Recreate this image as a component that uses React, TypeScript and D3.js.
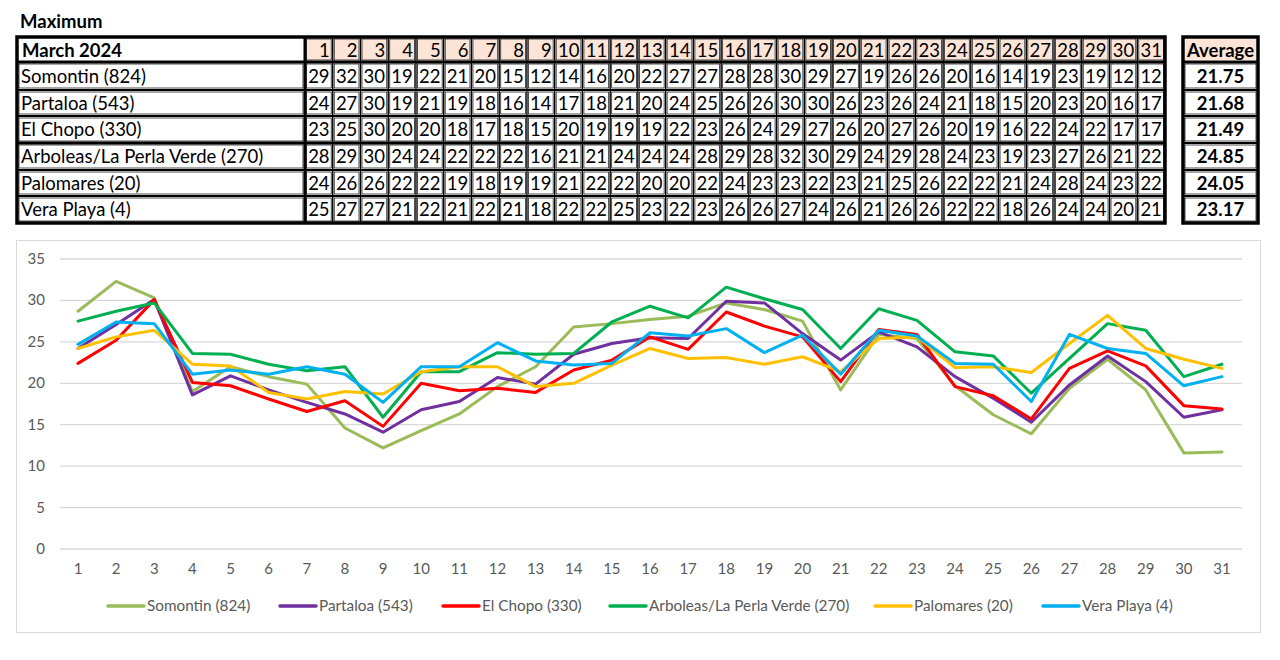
import { useEffect } from "react";
import * as d3 from "d3";

const days = d3.range(1, 32);
const stations = [
  "Somontin (824)",
  "Partaloa (543)",
  "El Chopo (330)",
  "Arboleas/La Perla Verde (270)",
  "Palomares (20)",
  "Vera Playa (4)",
];
const colors = ["#9bbb59", "#7030a0", "#ff0000", "#00b050", "#ffc000", "#00b0f0"];

// rounded values as printed in the table
const tableSomontin = [29, 32, 30, 19, 22, 21, 20, 15, 12, 14, 16, 20, 22, 27, 27, 28, 28, 30, 29, 27, 19, 26, 26, 20, 16, 14, 19, 23, 19, 12, 12];
const tablePartaloa = [24, 27, 30, 19, 21, 19, 18, 16, 14, 17, 18, 21, 20, 24, 25, 26, 26, 30, 30, 26, 23, 26, 24, 21, 18, 15, 20, 23, 20, 16, 17];
const tableElChopo = [23, 25, 30, 20, 20, 18, 17, 18, 15, 20, 19, 19, 19, 22, 23, 26, 24, 29, 27, 26, 20, 27, 26, 20, 19, 16, 22, 24, 22, 17, 17];
const tableArboleas = [28, 29, 30, 24, 24, 22, 22, 22, 16, 21, 21, 24, 24, 24, 28, 29, 28, 32, 30, 29, 24, 29, 28, 24, 23, 19, 23, 27, 26, 21, 22];
const tablePalomares = [24, 26, 26, 22, 22, 19, 18, 19, 19, 21, 22, 22, 20, 20, 22, 24, 23, 23, 22, 23, 21, 25, 26, 22, 22, 21, 24, 28, 24, 23, 22];
const tableVera = [25, 27, 27, 21, 22, 21, 22, 21, 18, 22, 22, 25, 23, 22, 23, 26, 26, 27, 24, 26, 21, 26, 26, 22, 22, 18, 26, 24, 24, 20, 21];
const averages = ["21.75", "21.68", "21.49", "24.85", "24.05", "23.17"];

// unrounded values
const lineSomontin = [28.7, 32.3, 30.3, 19.0, 22.0, 20.8, 19.9, 14.6, 12.2, 14.3, 16.3, 19.6, 22.0, 26.8, 27.2, 27.7, 28.1, 29.7, 28.9, 27.5, 19.2, 25.9, 25.4, 19.7, 16.2, 13.9, 19.4, 22.9, 19.2, 11.6, 11.7];
const linePartaloa = [24.2, 27.1, 30.1, 18.6, 20.9, 19.2, 17.7, 16.3, 14.1, 16.8, 17.8, 20.7, 19.9, 23.5, 24.8, 25.5, 25.4, 29.9, 29.7, 26.0, 22.8, 26.2, 24.4, 20.8, 18.2, 15.3, 19.8, 23.3, 20.2, 15.9, 16.8];
const lineElChopo = [22.4, 25.2, 30.1, 20.1, 19.7, 18.1, 16.6, 17.9, 14.8, 20.0, 19.1, 19.4, 18.9, 21.6, 22.8, 25.6, 24.1, 28.6, 26.9, 25.6, 20.2, 26.5, 25.9, 19.6, 18.5, 15.7, 21.8, 23.9, 22.1, 17.3, 16.9];
const lineArboleas = [27.5, 28.7, 29.7, 23.6, 23.5, 22.3, 21.5, 22.0, 15.9, 21.4, 21.4, 23.7, 23.5, 23.6, 27.4, 29.3, 27.9, 31.6, 30.2, 28.9, 24.2, 29.0, 27.6, 23.8, 23.3, 18.8, 23.0, 27.2, 26.4, 20.8, 22.3];
const linePalomares = [24.2, 25.6, 26.4, 22.3, 22.1, 18.9, 18.1, 19.0, 18.7, 21.4, 22.0, 22.0, 19.6, 20.0, 22.2, 24.2, 23.0, 23.1, 22.3, 23.2, 21.4, 25.4, 25.6, 21.9, 22.0, 21.3, 24.8, 28.2, 24.2, 22.9, 21.8];
const lineVera = [24.7, 27.4, 27.2, 21.1, 21.6, 21.1, 22.0, 21.1, 17.7, 22.0, 22.0, 24.9, 22.7, 22.2, 22.4, 26.1, 25.7, 26.6, 23.7, 25.8, 21.1, 26.4, 25.7, 22.4, 22.3, 17.8, 25.9, 24.2, 23.6, 19.7, 20.8];

const tableRows = [tableSomontin, tablePartaloa, tableElChopo, tableArboleas, tablePalomares, tableVera];
const lineRows = [lineSomontin, linePartaloa, lineElChopo, lineArboleas, linePalomares, lineVera];
const yTicks = [0, 5, 10, 15, 20, 25, 30, 35];

const font = "Lato, 'Open Sans', sans-serif";
const peach = "#fce4d6";

export default function App() {
  useEffect(() => {
    document.body.style.margin = "0";
  }, []);

  // table geometry
  const tLeft = 17, tNameRight = 305, tRight = 1165;
  const rowEdges = [37, 62, 90, 116, 143, 170, 196, 223];
  const dayX = d3.scaleBand<number>().domain(days).range([tNameRight, tRight]);
  const avgLeft = 1183, avgRight = 1258;

  // chart geometry
  const x = d3.scaleLinear().domain([1, 31]).range([78, 1222]);
  const y = d3.scaleLinear().domain([0, 35]).range([549, 259]);
  const line = d3.line<number>().x((_, i) => x(days[i])).y((d) => y(d));

  const legendX = [108, 280, 443, 610, 875, 1043];

  return (
    <svg width={1280} height={660} style={{ display: "block", background: "#fff" }} fontFamily={font}>
      <text x={20} y={28} fontSize={18.5} fontWeight={700} fill="#000">Maximum</text>

      {/* header row */}
      <text x={22} y={56.5} fontSize={18.5} fontWeight={700}>March 2024</text>
      {days.map((d) => (
        <g key={"h" + d}>
          <rect x={dayX(d)! + 1.5} y={rowEdges[0] + 2} width={dayX.bandwidth() - 3} height={rowEdges[1] - rowEdges[0] - 4}
            fill={peach} stroke="#222" strokeWidth={0.8} />
          <text x={dayX(d)! + dayX.bandwidth() - 3} y={56.5} fontSize={18.5} textAnchor="end">{d}</text>
        </g>
      ))}

      {/* data rows */}
      {stations.map((s, r) => {
        const top = rowEdges[r + 1], bot = rowEdges[r + 2];
        const ty = (top + bot) / 2 + 6.5;
        return (
          <g key={s}>
            <rect x={tLeft + 2} y={top + 2} width={tNameRight - tLeft - 4} height={bot - top - 4} fill="#fff" stroke="#222" strokeWidth={0.8} />
            <text x={21} y={ty} fontSize={18.5}>{s}</text>
            {days.map((d, i) => (
              <g key={d}>
                <rect x={dayX(d)! + 1.5} y={top + 2} width={dayX.bandwidth() - 3} height={bot - top - 4}
                  fill="#fff" stroke="#222" strokeWidth={0.8} />
                <text x={dayX(d)! + dayX.bandwidth() / 2} y={ty} fontSize={18.5} textAnchor="middle">{tableRows[r][i]}</text>
              </g>
            ))}
            <line x1={tLeft} x2={tRight} y1={top} y2={top} stroke="#000" strokeWidth={r === 0 || r === 3 ? 3 : 2} />
          </g>
        );
      })}
      {/* column grid */}
      {days.slice(1).map((d) => (
        <line key={"v" + d} x1={dayX(d)} x2={dayX(d)} y1={rowEdges[0]} y2={rowEdges[7]} stroke="#000" strokeWidth={1.4} />
      ))}
      <line x1={tNameRight} x2={tNameRight} y1={rowEdges[0]} y2={rowEdges[7]} stroke="#000" strokeWidth={3} />
      <rect x={tLeft} y={rowEdges[0]} width={tRight - tLeft} height={rowEdges[7] - rowEdges[0]} fill="none" stroke="#000" strokeWidth={3.5} />

      {/* average table */}
      <rect x={avgLeft + 2} y={rowEdges[0] + 2} width={avgRight - avgLeft - 4} height={rowEdges[1] - rowEdges[0] - 4} fill={peach} />
      <text x={(avgLeft + avgRight) / 2} y={56.5} fontSize={18.5} fontWeight={700} textAnchor="middle">Average</text>
      {averages.map((a, r) => {
        const top = rowEdges[r + 1], bot = rowEdges[r + 2];
        return (
          <g key={"a" + r}>
            <rect x={avgLeft + 2} y={top + 2} width={avgRight - avgLeft - 4} height={bot - top - 4} fill="#fff" stroke="#222" strokeWidth={0.8} />
            <line x1={avgLeft} x2={avgRight} y1={top} y2={top} stroke="#000" strokeWidth={r === 0 ? 3 : 2} />
            <text x={(avgLeft + avgRight) / 2} y={(top + bot) / 2 + 6.5} fontSize={18.5} fontWeight={700} textAnchor="middle">{a}</text>
          </g>
        );
      })}
      <rect x={avgLeft} y={rowEdges[0]} width={avgRight - avgLeft} height={rowEdges[7] - rowEdges[0]} fill="none" stroke="#000" strokeWidth={3.5} />

      {/* chart frame */}
      <rect x={16.5} y={240.5} width={1244} height={392} fill="#fff" stroke="#d9d9d9" strokeWidth={1} />
      {yTicks.map((t) => (
        <g key={"y" + t}>
          <line x1={60} x2={1242} y1={y(t)} y2={y(t)} stroke="#d9d9d9" strokeWidth={1.3} />
          <text x={45} y={y(t) + 5} fontSize={15} fill="#595959" textAnchor="end">{t}</text>
        </g>
      ))}
      {days.map((d) => (
        <text key={"x" + d} x={x(d)} y={574} fontSize={15} fill="#595959" textAnchor="middle">{d}</text>
      ))}
      {lineRows.map((vals, i) => (
        <path key={"l" + i} d={line(vals)!} fill="none" stroke={colors[i]} strokeWidth={3} strokeLinejoin="round" strokeLinecap="round" />
      ))}

      {/* legend */}
      {stations.map((s, i) => (
        <g key={"lg" + i} transform={`translate(${legendX[i]},606)`}>
          <line x1={0} x2={36} y1={0} y2={0} stroke={colors[i]} strokeWidth={3.5} strokeLinecap="round" />
          <text x={39} y={5} fontSize={15.3} fill="#595959">{s}</text>
        </g>
      ))}
    </svg>
  );
}
